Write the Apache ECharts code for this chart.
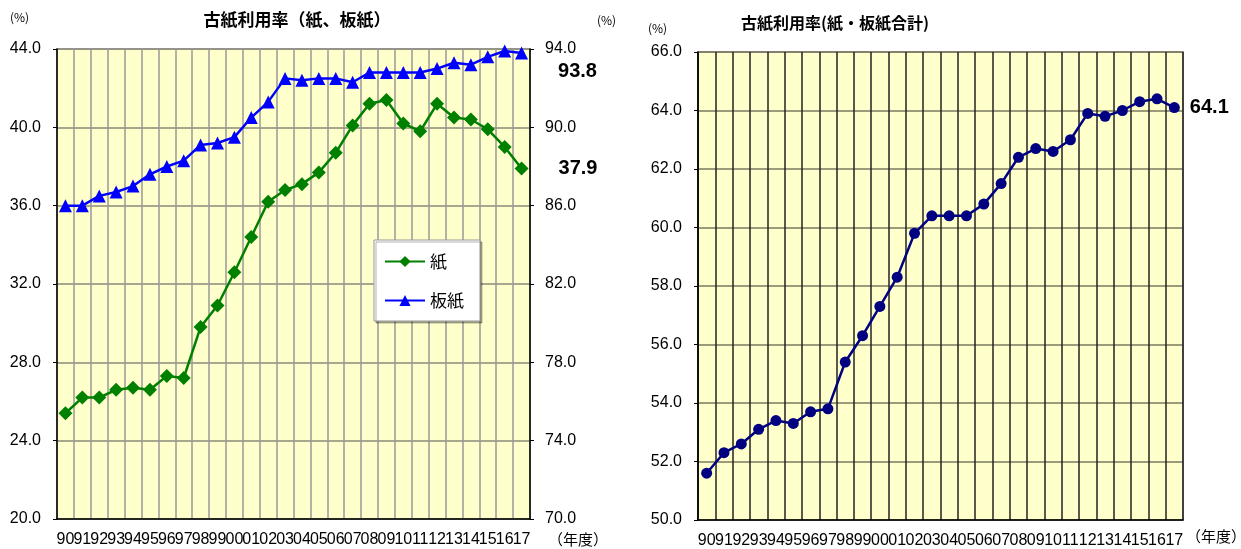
<!DOCTYPE html>
<html>
<head>
<meta charset="utf-8">
<script src="https://cdn.jsdelivr.net/npm/echarts@6/dist/echarts.min.js"></script>
<style>
  html, body { margin: 0; padding: 0; background: #fff; }
  #main { width: 1241px; height: 549px; }
</style>
</head>
<body>
<div id="main"></div>
<script>
// 年度 (1990 - 2017)
var years = ['90', '91', '92', '93', '94', '95', '96', '97', '98', '99',
             '00', '01', '02', '03', '04', '05', '06', '07', '08', '09',
             '10', '11', '12', '13', '14', '15', '16', '17'];

// 古紙利用率 紙 (%)
var paperRate = [25.4, 26.2, 26.2, 26.6, 26.7, 26.6, 27.3, 27.2, 29.8, 30.9,
                 32.6, 34.4, 36.2, 36.8, 37.1, 37.7, 38.7, 40.1, 41.2, 41.4,
                 40.2, 39.8, 41.2, 40.5, 40.4, 39.9, 39.0, 37.9];

// 古紙利用率 板紙 (%)
var boardRate = [86.0, 86.0, 86.5, 86.7, 87.0, 87.6, 88.0, 88.3, 89.1, 89.2,
                 89.5, 90.5, 91.3, 92.5, 92.4, 92.5, 92.5, 92.3, 92.8, 92.8,
                 92.8, 92.8, 93.0, 93.3, 93.2, 93.6, 93.9, 93.8];

// 古紙利用率 紙・板紙合計 (%)
var totalRate = [51.6, 52.3, 52.6, 53.1, 53.4, 53.3, 53.7, 53.8, 55.4, 56.3,
                 57.3, 58.3, 59.8, 60.4, 60.4, 60.4, 60.8, 61.5, 62.4, 62.7,
                 62.6, 63.0, 63.9, 63.8, 64.0, 64.3, 64.4, 64.1];

// 軸の範囲
var paperAxis = { min: 20, max: 44, step: 4 };
var boardAxis = { min: 70, max: 94, step: 4 };
var totalAxis = { min: 50, max: 66, step: 2 };

var FONT = 'Liberation Sans Narrow, Liberation Sans, Noto Sans CJK JP, sans-serif';
var JP = 'Noto Sans CJK JP, sans-serif';

// 最後の点だけラベルを付ける
function lastLabel(list, offset, dist) {
    return list.map(function (v, i) {
        if (i !== list.length - 1) return v;
        return {
            value: v,
            label: {
                show: true,
                position: 'right',
                distance: dist,
                offset: offset,
                formatter: function (p) { return p.value.toFixed(1); },
                color: '#000',
                fontSize: 20,
                fontWeight: 'bold',
                fontFamily: FONT
            }
        };
    });
}

function catAxis(gridIndex, splitColor) {
    return {
        type: 'category',
        gridIndex: gridIndex,
        data: years,
        boundaryGap: true,
        axisTick: { show: false },
        axisLine: { lineStyle: { color: '#000', width: 1.5 } },
        axisLabel: { interval: 0, color: '#000', fontSize: 16, margin: 13, fontFamily: FONT },
        splitLine: { show: true, interval: 0, lineStyle: { color: splitColor, width: 1.5 } }
    };
}

function valAxis(gridIndex, range, pos, showSplit, splitColor) {
    return {
        type: 'value',
        gridIndex: gridIndex,
        position: pos,
        min: range.min,
        max: range.max,
        interval: range.step,
        axisLine: { show: true, lineStyle: { color: '#000', width: 1.5 } },
        axisTick: { show: true, length: 4, lineStyle: { color: '#000' } },
        axisLabel: {
            color: '#000', fontSize: 16, margin: pos === 'left' ? 16 : 15, fontFamily: FONT,
            formatter: function (v) { return v.toFixed(1); }
        },
        splitLine: { show: showSplit, lineStyle: { color: splitColor, width: 1.5 } }
    };
}

var chart = echarts.init(document.getElementById('main'));

var option = {
    backgroundColor: '#fff',
    animation: false,
    title: [
        {
            text: '古紙利用率（紙、板紙）',
            left: 292, top: 6, textAlign: 'center',
            textStyle: { fontSize: 17, fontWeight: 'bold', color: '#000', fontFamily: JP }
        },
        {
            text: '古紙利用率(紙・板紙合計)',
            left: 830, top: 10, textAlign: 'center',
            textStyle: { fontSize: 16, fontWeight: 'bold', color: '#000', fontFamily: JP }
        }
    ],
    graphic: [
        { type: 'text', left: 10, top: 11, style: { text: '(%)', fill: '#000', font: '12px ' + JP } },
        { type: 'text', left: 597, top: 14, style: { text: '(%)', fill: '#000', font: '12px ' + JP } },
        { type: 'text', left: 648, top: 22, style: { text: '(%)', fill: '#000', font: '12px ' + JP } },
        { type: 'text', left: 548, top: 532, style: { text: '（年度）', fill: '#000', font: '15px ' + JP } },
        { type: 'text', left: 1186, top: 529, style: { text: '（年度）', fill: '#000', font: '15px ' + JP } }
    ],
    legend: {
        data: ['紙', '板紙'],
        orient: 'vertical',
        left: 374,
        top: 240,
        itemWidth: 40,
        itemHeight: 14,
        itemGap: 22,
        padding: [13, 16, 12, 10],
        backgroundColor: '#fff',
        borderColor: '#999',
        borderWidth: 1,
        shadowColor: 'rgba(0,0,0,0.3)',
        shadowOffsetX: 2,
        shadowOffsetY: 2,
        textStyle: { fontSize: 17, color: '#000', fontFamily: JP }
    },
    grid: [
        { left: 57, top: 49, width: 473, height: 470, show: true, backgroundColor: '#FFFFCC', borderColor: '#999', borderWidth: 1.5 },
        { left: 698, top: 52, width: 485, height: 469, show: true, backgroundColor: '#FFFFCC', borderColor: '#999', borderWidth: 2 }
    ],
    xAxis: [
        catAxis(0, '#999'),
        catAxis(1, '#222')
    ],
    yAxis: [
        valAxis(0, paperAxis, 'left', true, '#8a8a7a'),
        valAxis(0, boardAxis, 'right', false, '#999'),
        valAxis(1, totalAxis, 'left', true, '#7a7a60')
    ],
    series: [
        {
            name: '紙',
            type: 'line',
            xAxisIndex: 0,
            yAxisIndex: 0,
            data: lastLabel(paperRate, [0, 0], 30),
            symbol: 'diamond',
            symbolSize: 14,
            lineStyle: { color: '#008000', width: 2.5 },
            itemStyle: { color: '#008000' },
            z: 3
        },
        {
            name: '板紙',
            type: 'line',
            xAxisIndex: 0,
            yAxisIndex: 1,
            data: lastLabel(boardRate, [0, 19], 30),
            symbol: 'triangle',
            symbolSize: 13,
            lineStyle: { color: '#0000FF', width: 2.5 },
            itemStyle: { color: '#0000FF' },
            z: 3
        },
        {
            name: '合計',
            type: 'line',
            xAxisIndex: 1,
            yAxisIndex: 2,
            data: lastLabel(totalRate, [0, 0], 10),
            symbol: 'circle',
            symbolSize: 11,
            lineStyle: { color: '#000080', width: 2.5 },
            itemStyle: { color: '#000080' },
            z: 3
        }
    ]
};

chart.setOption(option);
</script>
</body>
</html>
